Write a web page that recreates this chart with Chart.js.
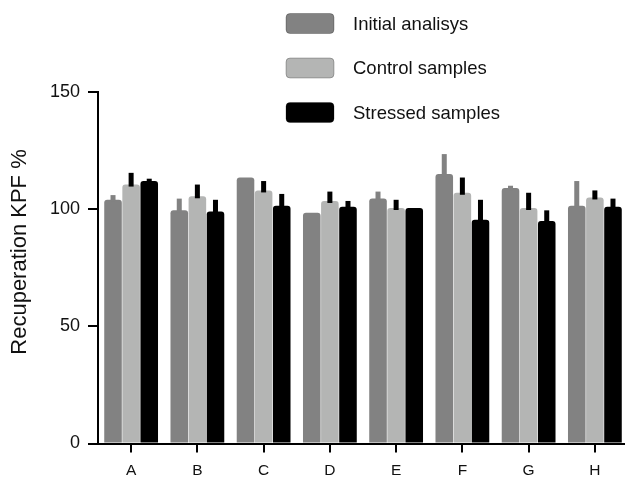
<!DOCTYPE html>
<html>
<head>
<meta charset="utf-8">
<script src="https://cdn.jsdelivr.net/npm/chart.js@4/dist/chart.umd.min.js"></script>
<style>
html,body{margin:0;padding:0;overflow:hidden;background:#fff;}
#wrap{width:628px;height:478px;position:relative;}
</style>
</head>
<body>
<div id="wrap"><canvas id="c"></canvas></div>
<script>
const categories = ['A','B','C','D','E','F','G','H'];
const seriesNames = ['Initial analisys','Control samples','Stressed samples'];
const initialValues = [104, 99.5, 113.5, 98.5, 104.5, 115, 109, 101.5];
const initialErrors = [2, 5, 0, 0, 3, 8.5, 1, 10.5];
const controlValues = [110.5, 105.5, 108, 103.5, 100.5, 107, 100.5, 105];
const controlErrors = [5, 5, 4, 4, 3.5, 6.5, 6.5, 3];
const stressedValues = [112, 99, 101.5, 101, 100.5, 95.5, 95, 101];
const stressedErrors = [1, 5, 5, 2.5, 0, 8.5, 4.5, 3.5];
const yTicks = [0, 50, 100, 150];
const yTitle = 'Recuperation KPF %';

const colInitial = '#828282';
const colControl = '#b4b5b4';
const colStressed = '#000000';
const FONT = '"Liberation Sans", Arial, sans-serif';

const errorBarPlugin = {
  id: 'errorBars',
  afterDatasetsDraw(chart) {
    const ctx = chart.ctx;
    const y = chart.scales.y;
    chart.data.datasets.forEach((ds, di) => {
      const meta = chart.getDatasetMeta(di);
      ctx.save();
      ctx.fillStyle = ds.errColor;
      meta.data.forEach((el, i) => {
        const e = ds.errors[i];
        if (!e) return;
        const yTop = y.getPixelForValue(ds.data[i] + e);
        const yBase = y.getPixelForValue(ds.data[i]) + 2;
        ctx.fillRect(el.x - 2.5, yTop, 5, yBase - yTop);
      });
      ctx.restore();
    });
  }
};

const legendPlugin = {
  id: 'customLegend',
  afterDraw(chart) {
    const ctx = chart.ctx;
    const centers = [23.5, 68, 112.5];
    ctx.save();
    chart.data.datasets.forEach((ds, i) => {
      const cy = centers[i];
      ctx.beginPath();
      ctx.roundRect(286, cy - 10, 48, 20, 4);
      ctx.fillStyle = ds.backgroundColor;
      ctx.fill();
      ctx.lineWidth = 1;
      ctx.strokeStyle = 'rgba(0,0,0,0.25)';
      ctx.stroke();
      ctx.fillStyle = '#111';
      ctx.font = '18.5px ' + FONT;
      ctx.textBaseline = 'middle';
      ctx.textAlign = 'left';
      ctx.fillText(ds.label, 353, cy + 1);
    });
    // y-axis title
    ctx.translate(20, 252);
    ctx.rotate(-Math.PI / 2);
    ctx.font = '22px ' + FONT;
    ctx.textAlign = 'center';
    ctx.textBaseline = 'middle';
    ctx.fillStyle = '#111';
    ctx.fillText(yTitle, 0, 0);
    ctx.restore();
  }
};

new Chart(document.getElementById('c'), {
  type: 'bar',
  data: {
    labels: categories,
    datasets: [
      {label: seriesNames[0], data: initialValues, errors: initialErrors, backgroundColor: colInitial, errColor: colInitial},
      {label: seriesNames[1], data: controlValues, errors: controlErrors, backgroundColor: colControl, errColor: '#000'},
      {label: seriesNames[2], data: stressedValues, errors: stressedErrors, backgroundColor: colStressed, errColor: '#000'}
    ]
  },
  options: {
    responsive: true,
    maintainAspectRatio: false,
    animation: false,
    layout: {padding: {top: 92, bottom: 0, left: 0, right: 0}},
    datasets: {
      bar: {
        categoryPercentage: 0.82,
        barPercentage: 0.97,
        borderRadius: 3,
        borderSkipped: 'start'
      }
    },
    plugins: {
      legend: {display: false},
      tooltip: {enabled: false}
    },
    scales: {
      x: {
        grid: {display: true, drawOnChartArea: false, drawTicks: true, tickLength: 9, color: '#000', lineWidth: 2, offset: false},
        border: {display: true, color: '#000', width: 2},
        ticks: {color: '#111', font: {family: FONT, size: 15.5}, padding: 9},
        afterFit(scale) { scale.height = 34.5; }
      },
      y: {
        min: 0,
        max: 150,
        afterBuildTicks(scale) { scale.ticks = yTicks.map(v => ({value: v})); },
        grid: {display: true, drawOnChartArea: false, drawTicks: true, tickLength: 10, color: '#000', lineWidth: 2},
        border: {display: true, color: '#000', width: 2},
        ticks: {color: '#111', font: {family: FONT, size: 18}, padding: 8},
        title: {display: false},
        afterFit(scale) { scale.width = 98; }
      }
    }
  },
  plugins: [errorBarPlugin, legendPlugin]
});
</script>
</body>
</html>
